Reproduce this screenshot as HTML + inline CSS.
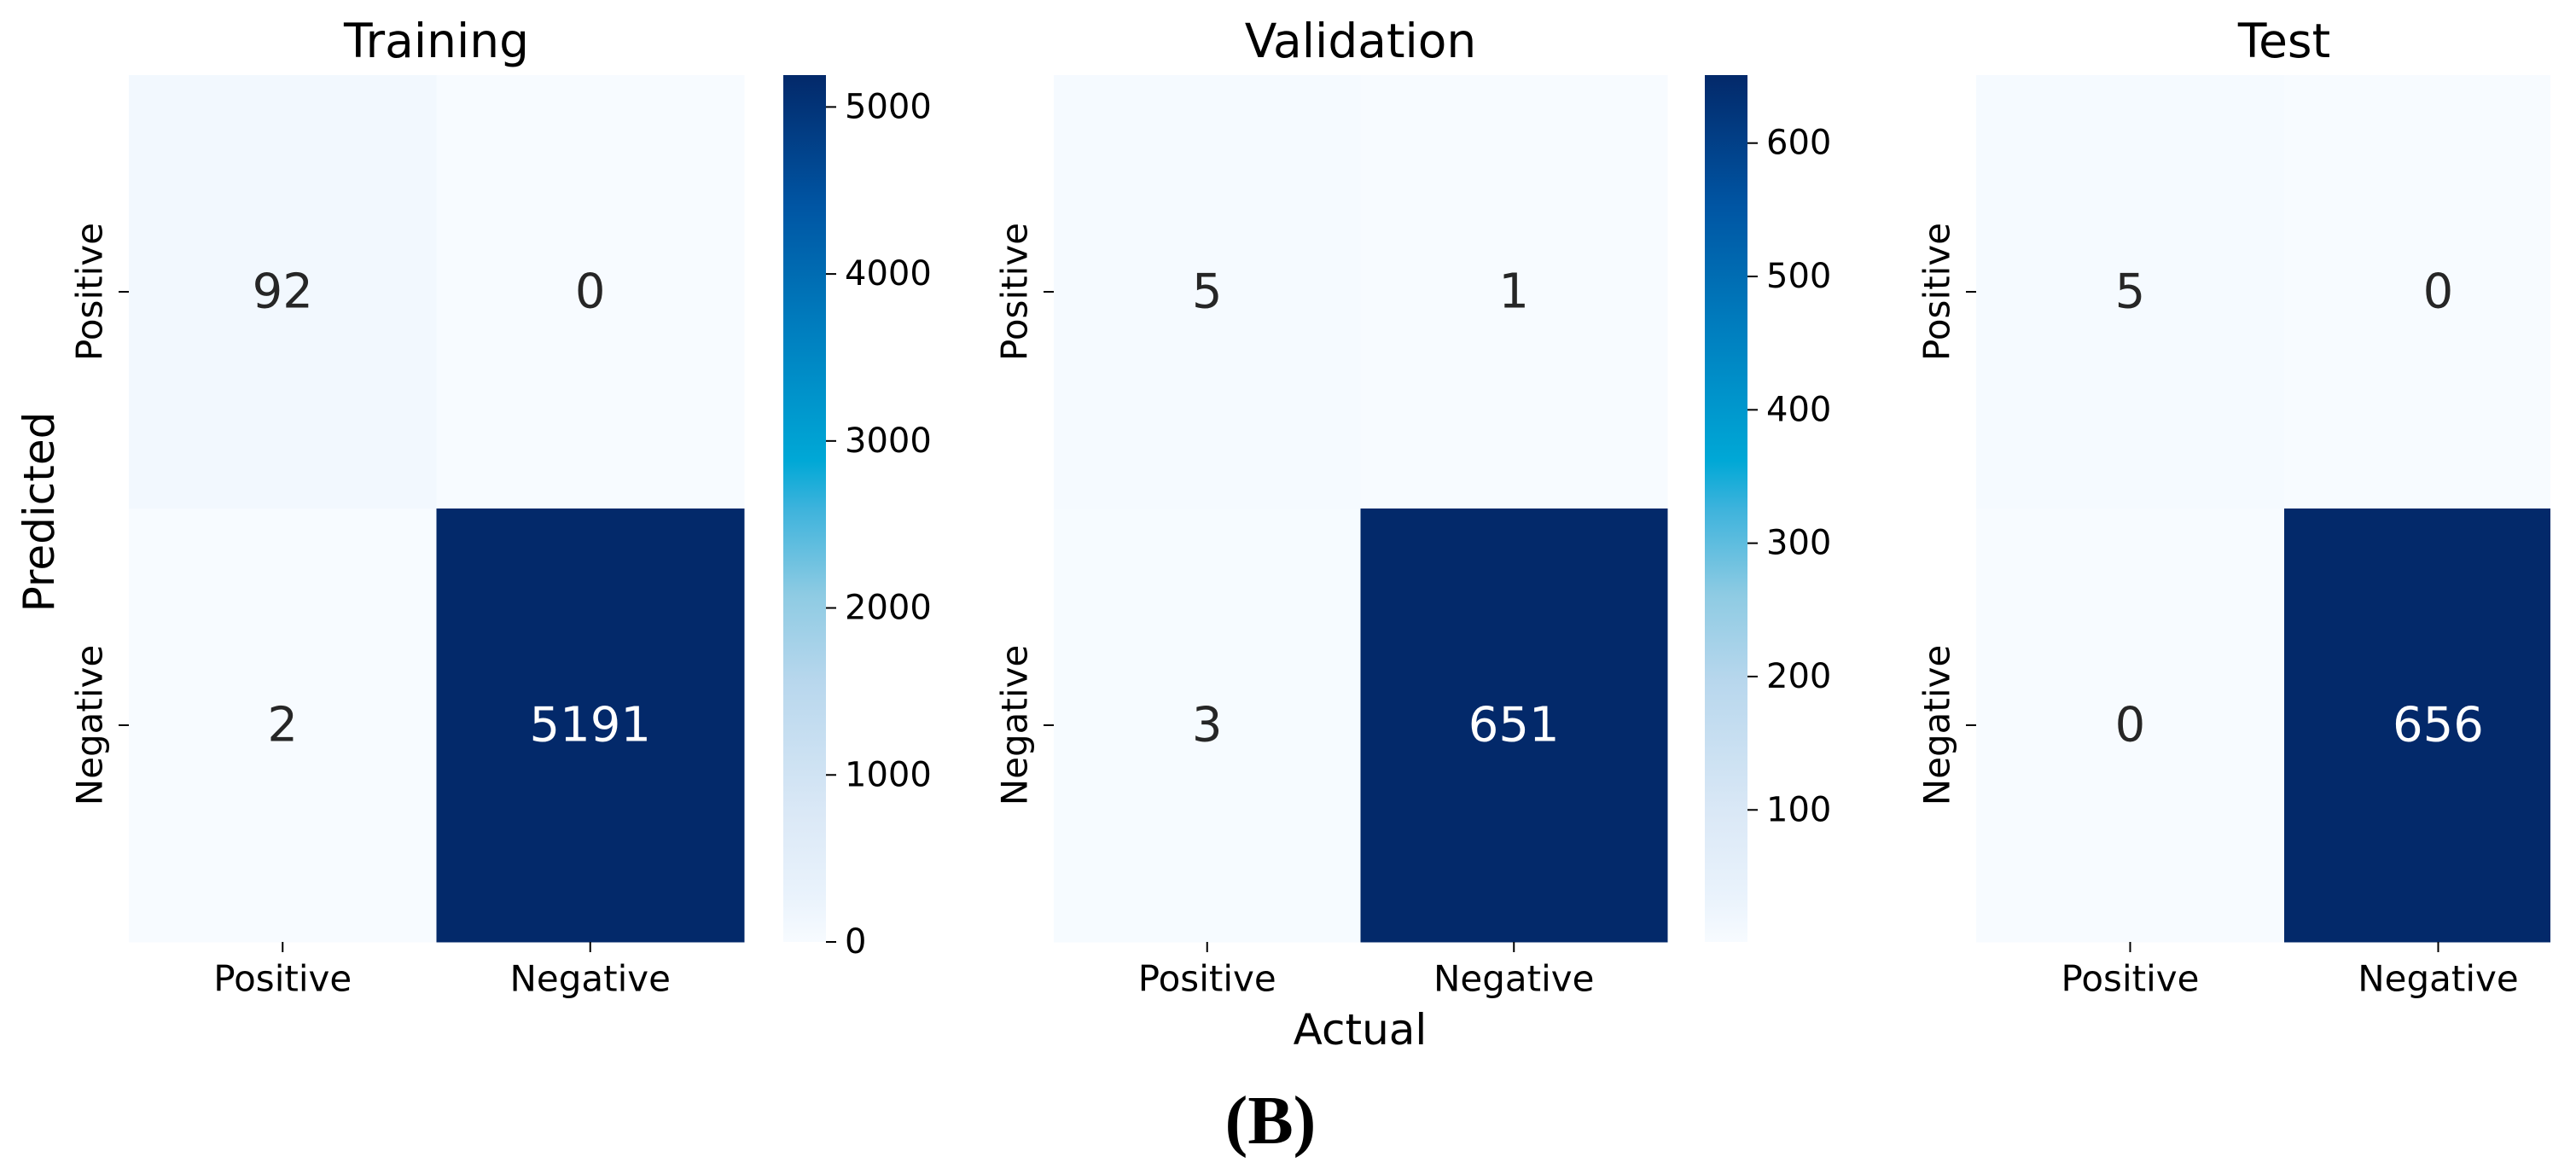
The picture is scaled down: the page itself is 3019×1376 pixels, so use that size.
<!DOCTYPE html>
<html><head><meta charset="utf-8">
<style>
html,body{margin:0;padding:0;background:#fff;}
svg{display:block;font-family:"DejaVu Sans","Liberation Sans",sans-serif;}
</style></head>
<body>
<svg id="fig" width="3019" height="1376" viewBox="0 0 3019 1376" xmlns="http://www.w3.org/2000/svg">
<rect x="0" y="0" width="3019" height="1376" fill="#fff"/>
<defs>
<linearGradient id="cbgrad" x1="0" y1="1" x2="0" y2="0">
<stop offset="0" stop-color="#f7fbff"/>
<stop offset="0.05" stop-color="#eaf3fc"/>
<stop offset="0.15" stop-color="#dae8f6"/>
<stop offset="0.3" stop-color="#b8d7ed"/>
<stop offset="0.4" stop-color="#8ecbe3"/>
<stop offset="0.5" stop-color="#3db3dc"/>
<stop offset="0.555" stop-color="#00a8d6"/>
<stop offset="0.7" stop-color="#0080c0"/>
<stop offset="0.85" stop-color="#0055a3"/>
<stop offset="1" stop-color="#03296a"/>
</linearGradient>
<clipPath id="figclip"><rect x="0" y="0" width="2989" height="1376"/></clipPath>
</defs>
<g id="root"></g>
<text x="46" y="600" font-size="50" text-anchor="middle" dominant-baseline="central" transform="rotate(-90 46 600)" fill="#000">Predicted</text>
<text x="1594" y="1207" font-size="50" text-anchor="middle" dominant-baseline="central" fill="#000">Actual</text>
<text x="1489" y="1340" font-size="80" font-weight="bold" text-anchor="middle" font-family="Liberation Serif, serif" fill="#000">(B)</text>
</svg>
<script>
const categories = ["Positive", "Negative"];
const panelTitles = ["Training", "Validation", "Test"];
const trainValues = [[92, 0], [2, 5191]];
const valValues = [[5, 1], [3, 651]];
const testValues = [[5, 0], [0, 656]];
const trainCbTicks = [0, 1000, 2000, 3000, 4000, 5000];
const valCbTicks = [100, 200, 300, 400, 500, 600];

const NS = "http://www.w3.org/2000/svg";
const root = document.getElementById("root");
const stops = [[0,[247,251,255]],[0.05,[234,243,252]],[0.15,[218,232,246]],[0.3,[184,215,237]],[0.4,[142,203,227]],[0.5,[61,179,220]],[0.555,[0,168,214]],[0.7,[0,128,192]],[0.85,[0,85,163]],[1,[3,41,106]]];
function cmap(t){
  t=Math.max(0,Math.min(1,t));
  for(let i=1;i<stops.length;i++){
    if(t<=stops[i][0]){
      const a=stops[i-1],b=stops[i],f=(t-a[0])/(b[0]-a[0]);
      const c=a[1].map((v,k)=>Math.round(v+(b[1][k]-v)*f));
      return "rgb("+c.join(",")+")";
    }
  }
  return "rgb(3,41,106)";
}
function mk(tag, attrs, parent){
  const e=document.createElementNS(NS,tag);
  for(const k in attrs) e.setAttribute(k,attrs[k]);
  (parent||root).appendChild(e);
  return e;
}
const panels = [
  {values: trainValues, title: panelTitles[0], x0: 151, x1: 872, cb: {x: 918, ticks: trainCbTicks}},
  {values: valValues, title: panelTitles[1], x0: 1235, x1: 1954, cb: {x: 1998, ticks: valCbTicks}},
  {values: testValues, title: panelTitles[2], x0: 2316, x1: 3038, cb: null}
];
const y0 = 88, y1 = 1104;
panels.forEach((p, pi) => {
  const g = mk("g", {});
  
  
  if (!p.cb) g.setAttribute("clip-path", "url(#figclip)");
  const flat = p.values.flat();
  const vmin = Math.min(...flat), vmax = Math.max(...flat);
  const cw = (p.x1 - p.x0) / categories.length, ch = (y1 - y0) / categories.length;
  const xs = c => p.x0 + cw * c;
  const ys = r => y0 + ch * r;
  p.values.forEach((row, r) => row.forEach((v, c) => {
    const t = (v - vmin) / (vmax - vmin);
    const cell = mk("rect", {x: xs(c), y: ys(r), width: cw + 0.5, height: ch + 0.5, fill: cmap(t)}, g);
    
    
    const txt = mk("text", {x: xs(c) + cw / 2, y: ys(r) + ch / 2, "font-size": 56, "text-anchor": "middle", "dominant-baseline": "central", fill: t > 0.5 ? "#fff" : "#262626"}, g);
    txt.textContent = v;
    
    
  }));
  const title = mk("text", {x: (p.x0 + p.x1) / 2, y: 48, "font-size": 55, "text-anchor": "middle", "dominant-baseline": "central", fill: "#000"});
  title.textContent = p.title;
  
  
  categories.forEach((cat, i) => {
    const cx = xs(i) + cw / 2;
    mk("line", {x1: cx, x2: cx, y1: y1, y2: y1 + 12, stroke: "#000", "stroke-width": 2});
    const xl = mk("text", {x: cx, y: 1147, "font-size": 42, "text-anchor": "middle", "dominant-baseline": "central", fill: "#000"});
    xl.textContent = cat;
    
    
    const cy = ys(i) + ch / 2;
    mk("line", {x1: p.x0 - 12, x2: p.x0, y1: cy, y2: cy, stroke: "#000", "stroke-width": 2});
    const lx = p.x0 - 46;
    const yl = mk("text", {x: lx, y: cy, "font-size": 42, "text-anchor": "middle", "dominant-baseline": "central", fill: "#000", transform: "rotate(-90 " + lx + " " + cy + ")"});
    yl.textContent = cat;
    
    
  });
  if (p.cb) {
    const cbg = mk("g", {});
    
    
    mk("rect", {x: p.cb.x, y: y0, width: 50, height: y1 - y0, fill: "url(#cbgrad)"}, cbg);
    const cy = v => y1 - (v - vmin) / (vmax - vmin) * (y1 - y0);
    p.cb.ticks.forEach(tv => {
      const yy = cy(tv);
      mk("line", {x1: p.cb.x + 50, x2: p.cb.x + 62, y1: yy, y2: yy, stroke: "#000", "stroke-width": 2}, cbg);
      const tl = mk("text", {x: p.cb.x + 72, y: yy, "font-size": 40, "dominant-baseline": "central", fill: "#000"}, cbg);
      tl.textContent = tv;
      
      
    });
  }
});
</script>
</body></html>
